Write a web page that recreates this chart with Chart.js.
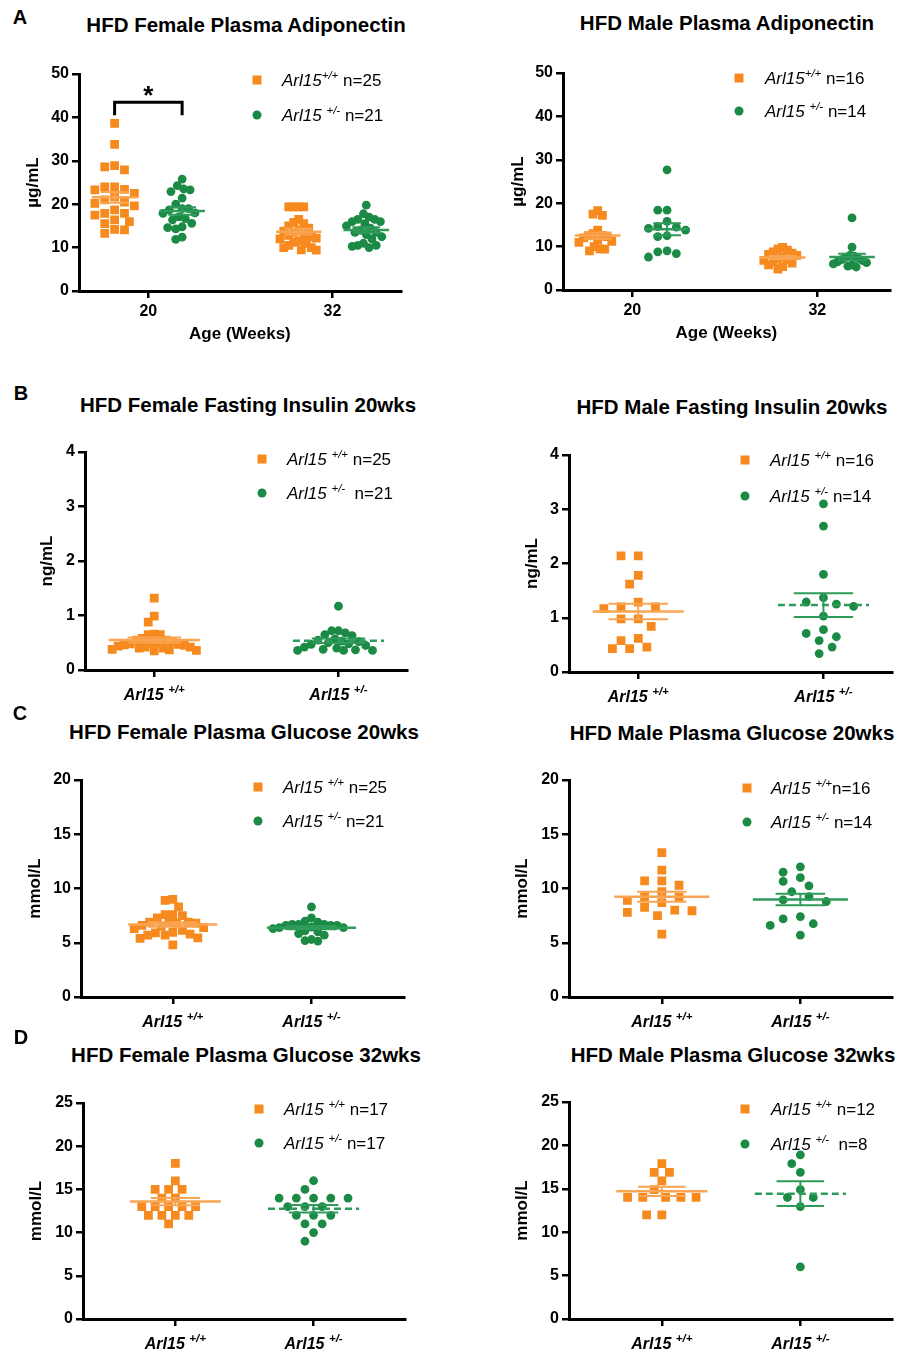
<!DOCTYPE html>
<html>
<head>
<meta charset="utf-8">
<script src="https://cdn.jsdelivr.net/npm/chart.js@4.4.1/dist/chart.umd.min.js"></script>
<style>
  body { margin: 0; background: #fff; font-family: "Liberation Sans", Arial, sans-serif; }
  #fig { position: relative; width: 898px; height: 1355px; overflow: hidden; }
  #fig canvas { position: absolute; }
  .t { position: absolute; font-weight: bold; font-size: 20.5px; line-height: 1; white-space: nowrap; transform: translate(-50%, -50%); }
  .letter { position: absolute; font-weight: bold; font-size: 20px; line-height: 1; transform: translate(-50%, -50%); }
  .lg { position: absolute; font-size: 17px; line-height: 1; white-space: nowrap; transform: translateY(-50%); }
  .lg sup { font-size: 11.5px; font-style: italic; vertical-align: 0; position: relative; top: -7px; }
  .mk { position: absolute; width: 9px; height: 9px; transform: translate(-50%, -50%); }
  .mk.dot { border-radius: 50%; }
</style>
</head>
<body>
<div id="fig"></div>
<script>
var ORANGE = '#F68A1F', GREEN = '#1A8A45';
var ORANGE_LINE = '#F9A553', GREEN_LINE = '#2E9B5A';

// x categories
var ageWeeks = [20, 32];
var genotypes = ['+/+', '+/-'];

// A: plasma adiponectin (µg/mL)
var adipoFemaleWT20 = [38.6, 33.8, 28.9, 28.6, 27.9, 24.0, 24.0, 23.4, 23.3, 22.5, 21.7, 21.0, 20.5, 20.2, 19.6, 18.7, 17.9, 17.9, 17.5, 16.4, 16.0, 15.5, 14.2, 14.1, 13.3];
var adipoFemaleHet20 = [25.8, 24.3, 23.5, 23.3, 22.9, 21.4, 20.0, 19.0, 19.0, 18.7, 18.0, 17.9, 17.1, 16.7, 16.4, 15.6, 14.8, 14.6, 14.3, 12.4, 11.9];
var adipoFemaleWT32 = [19.4, 19.4, 19.4, 19.4, 16.5, 15.8, 15.5, 15.0, 14.5, 14.0, 13.8, 13.5, 13.0, 12.8, 12.5, 12.2, 12.0, 11.5, 11.2, 11.0, 10.5, 10.0, 10.0, 9.5, 9.4];
var adipoFemaleHet32 = [19.8, 17.8, 17.0, 16.5, 16.5, 16.0, 16.0, 15.5, 15.0, 14.5, 14.0, 13.5, 13.5, 13.0, 12.5, 12.0, 11.0, 10.5, 10.5, 10.3, 10.0];
var adipoMaleWT20 = [18.3, 17.5, 17.2, 13.8, 13.0, 12.6, 12.5, 12.3, 12.0, 11.5, 11.2, 11.0, 10.0, 9.5, 9.4, 9.0];
var adipoMaleHet20 = [27.7, 18.4, 18.4, 15.8, 14.6, 14.5, 14.2, 13.8, 12.5, 12.3, 9.0, 8.8, 8.4, 7.6];
var adipoMaleWT32 = [9.8, 9.5, 9.2, 8.8, 8.5, 8.2, 8.0, 7.6, 7.3, 7.0, 6.8, 6.5, 6.2, 5.8, 5.4, 4.8];
var adipoMaleHet32 = [16.6, 9.9, 8.0, 7.8, 7.5, 7.3, 7.0, 6.8, 6.5, 6.3, 6.0, 5.8, 5.5, 5.3];
// significance bracket between the two 20-week groups
var adipoFemaleSig = { from: 0, to: 1, top: 43.5, drop: 3, mark: '*' };

// B: fasting insulin 20 wks (ng/mL)
var insulinFemaleWT = [1.32, 0.99, 0.88, 0.66, 0.65, 0.65, 0.58, 0.55, 0.55, 0.52, 0.50, 0.50, 0.48, 0.47, 0.46, 0.45, 0.44, 0.42, 0.42, 0.40, 0.40, 0.38, 0.37, 0.36, 0.35];
var insulinFemaleHet = [1.17, 0.72, 0.72, 0.68, 0.65, 0.63, 0.57, 0.55, 0.53, 0.52, 0.50, 0.48, 0.47, 0.45, 0.42, 0.40, 0.38, 0.37, 0.36, 0.36, 0.36];
var insulinMaleWT = [2.14, 2.14, 1.78, 1.62, 1.29, 1.20, 1.20, 1.17, 0.98, 0.98, 0.84, 0.62, 0.58, 0.46, 0.43, 0.43];
var insulinMaleHet = [3.10, 2.69, 1.80, 1.37, 1.29, 1.25, 1.21, 1.03, 0.78, 0.71, 0.65, 0.58, 0.46, 0.34];

// C: plasma glucose 20 wks (mmol/L)
var glucose20FemaleWT = [9.0, 8.9, 8.3, 7.6, 7.6, 7.5, 7.3, 6.9, 6.9, 6.85, 6.8, 6.8, 6.6, 6.5, 6.4, 6.3, 6.15, 5.95, 5.9, 5.8, 5.7, 5.7, 5.45, 5.4, 4.8];
var glucose20FemaleHet = [8.3, 7.3, 7.0, 6.9, 6.7, 6.7, 6.7, 6.6, 6.6, 6.6, 6.45, 6.4, 6.4, 6.3, 6.1, 6.0, 5.85, 5.7, 5.3, 5.2, 5.15];
var glucose20MaleWT = [13.3, 11.7, 10.7, 10.7, 10.3, 9.7, 9.25, 9.2, 8.9, 8.7, 8.25, 8.0, 7.95, 7.8, 7.5, 5.8];
var glucose20MaleHet = [12.0, 11.5, 11.0, 10.65, 10.25, 9.7, 9.25, 8.95, 8.8, 7.4, 7.2, 6.75, 6.6, 5.7];

// D: plasma glucose 32 wks (mmol/L)
var glucose32FemaleWT = [18, 16, 15, 15, 15, 14, 14, 13, 13, 13, 13, 13, 12, 12, 12, 12, 11];
var glucose32FemaleHet = [16, 15, 14, 14, 14, 14, 14, 13, 13, 13, 12, 12, 12, 11, 11, 10, 9];
var glucose32MaleWT = [17.9, 16.9, 16.9, 15.9, 14.9, 14.0, 14.0, 14.0, 14.0, 14.0, 12.0, 12.0];
var glucose32MaleHet = [18.9, 17.9, 16.9, 14.9, 14.0, 14.0, 12.95, 6.0];

var LEG1 = ['<i>Arl15</i><sup>+/+</sup> n={n}', '<i>Arl15</i> <sup>+/-</sup> n={n}'];
var LEG2 = ['<i>Arl15</i> <sup>+/+</sup> n={n}', '<i>Arl15</i> <sup>+/-</sup> n={n}'];

function genoGroups(wt, het, dashed) {
  return [{ at: 0, side: 0, vals: wt, kind: 0 }, { at: 1, side: 0, vals: het, kind: 1, dashed: dashed }];
}

var panels = [
  { letter: ['A', 20, 17], col: 0, plot: [79, 74, 404, 291], yr: [0, 50, 10], xr: [15.48, 36.45], ticks: ageWeeks,
    ytitle: 'µg/mL', ytx: 33, xtitle: 'Age (Weeks)', xty: 334, meanW: 23, semW: 14, spread: 20,
    title: ['HFD Female Plasma Adiponectin', 246, 25], legend: { x: 257, y: 80, dy: 35, tx: 282, rows: LEG1 },
    groups: [{ at: 20, side: -2.2, vals: adipoFemaleWT20, kind: 0 }, { at: 20, side: 2.2, vals: adipoFemaleHet20, kind: 1 },
             { at: 32, side: -2.2, vals: adipoFemaleWT32, kind: 0 }, { at: 32, side: 2.2, vals: adipoFemaleHet32, kind: 1 }],
    sig: adipoFemaleSig },
  { col: 1, plot: [563, 73, 893, 290], yr: [0, 50, 10], xr: [15.5, 36.7], ticks: ageWeeks,
    ytitle: 'µg/mL', ytx: 518, xtitle: 'Age (Weeks)', xty: 333, meanW: 23, semW: 14, spread: 19,
    title: ['HFD Male Plasma Adiponectin', 727, 23], legend: { x: 739, y: 78, dy: 33, tx: 765, rows: LEG1 },
    groups: [{ at: 20, side: -2.25, vals: adipoMaleWT20, kind: 0 }, { at: 20, side: 2.25, vals: adipoMaleHet20, kind: 1 },
             { at: 32, side: -2.25, vals: adipoMaleWT32, kind: 0 }, { at: 32, side: 2.25, vals: adipoMaleHet32, kind: 1 }] },
  { letter: ['B', 21, 393], col: 0, plot: [85, 452, 410, 670], yr: [0, 4, 1], xr: [-0.376, 1.371], ticks: [0, 1], geno: true,
    ytitle: 'ng/mL', ytx: 47, meanW: 46, semW: 27, spread: 43,
    title: ['HFD Female Fasting Insulin 20wks', 248, 405],
    legend: { x: 262, y: 459, dy: 34, tx: 287, rows: ['<i>Arl15</i> <sup>+/+</sup> n={n}', '<i>Arl15</i> <sup>+/-</sup>&nbsp; n={n}'] },
    groups: genoGroups(insulinFemaleWT, insulinFemaleHet, true) },
  { col: 1, plot: [569, 455, 895, 672], yr: [0, 4, 1], xr: [-0.374, 1.369], ticks: [0, 1], geno: true,
    ytitle: 'ng/mL', ytx: 532, meanW: 46, semW: 30, spread: 40,
    title: ['HFD Male Fasting Insulin 20wks', 732, 407], legend: { x: 745, y: 460, dy: 36, tx: 770, rows: LEG2 },
    groups: genoGroups(insulinMaleWT, insulinMaleHet, true) },
  { letter: ['C', 20, 713], col: 0, plot: [81, 780, 407, 997], yr: [0, 20, 5], xr: [-0.662, 1.666], ticks: [0, 1], geno: true,
    ytitle: 'mmol/L', ytx: 35, meanW: 45, semW: 25, spread: 40,
    title: ['HFD Female Plasma Glucose 20wks', 244, 732], legend: { x: 258, y: 787, dy: 34, tx: 283, rows: LEG2 },
    groups: genoGroups(glucose20FemaleWT, glucose20FemaleHet, false) },
  { col: 1, plot: [569, 780, 895, 997], yr: [0, 20, 5], xr: [-0.67, 1.66], ticks: [0, 1], geno: true,
    ytitle: 'mmol/L', ytx: 522, meanW: 48, semW: 25, spread: 38,
    title: ['HFD Male Plasma Glucose 20wks', 732, 733],
    legend: { x: 747, y: 788, dy: 34, tx: 771, rows: ['<i>Arl15</i> <sup>+/+</sup>n={n}', '<i>Arl15</i> <sup>+/-</sup> n={n}'] },
    groups: genoGroups(glucose20MaleWT, glucose20MaleHet, false) },
  { letter: ['D', 21, 1037], col: 0, plot: [83, 1103, 408, 1319], yr: [0, 25, 5], xr: [-0.668, 1.66], ticks: [0, 1], geno: true,
    ytitle: 'mmol/L', ytx: 36, meanW: 46, semW: 25, spread: 36,
    title: ['HFD Female Plasma Glucose 32wks', 246, 1055], legend: { x: 259, y: 1109, dy: 34, tx: 284, rows: LEG2 },
    groups: genoGroups(glucose32FemaleWT, glucose32FemaleHet, true) },
  { col: 1, plot: [569, 1102, 895, 1319], yr: [0, 25, 5], xr: [-0.67, 1.66], ticks: [0, 1], geno: true,
    ytitle: 'mmol/L', ytx: 522, meanW: 46, semW: 24, spread: 36,
    title: ['HFD Male Plasma Glucose 32wks', 733, 1055],
    legend: { x: 745, y: 1109, dy: 35, tx: 771, rows: ['<i>Arl15</i> <sup>+/+</sup> n={n}', '<i>Arl15</i> <sup>+/-</sup>&nbsp; n={n}'] },
    groups: genoGroups(glucose32MaleWT, glucose32MaleHet, true) }
];

Chart.defaults.font.family = '"Liberation Sans", Arial, sans-serif';
Chart.defaults.color = '#000';

var fig = document.getElementById('fig');

function mean(a) { return a.reduce(function (s, v) { return s + v; }, 0) / a.length; }
function sem(a) {
  var m = mean(a);
  var ss = a.reduce(function (s, v) { return s + (v - m) * (v - m); }, 0);
  return Math.sqrt(ss / (a.length - 1)) / Math.sqrt(a.length);
}

// beeswarm in pixels: elliptical keep-out (wide in x), squeezed sideways until it fits the allowed half width
function swarmOnce(vals, yPix, ax, ay, step) {
  var idx = vals.map(function (v, i) { return i; });
  idx.sort(function (a, b) { return vals[b] - vals[a]; });
  var placed = [], out = [];
  idx.forEach(function (i) {
    var py = yPix(vals[i]);
    for (var k = 0; k < 600; k++) {
      var dx = (k % 2 ? -1 : 1) * Math.ceil(k / 2) * step;
      var hit = placed.some(function (p) {
        var ex = (p[0] - dx) / ax, ey = (p[1] - py) / ay;
        return ex * ex + ey * ey < 0.999;
      });
      if (!hit) { placed.push([dx, py]); out[i] = dx; break; }
    }
  });
  return out;
}
function swarm(vals, yPix, size, maxHalf) {
  var f = 1, out, wmax;
  do {
    out = swarmOnce(vals, yPix, 2 * size * f, 1.06 * size, size * f / 2);
    wmax = Math.max.apply(null, out.map(Math.abs));
    f *= 0.94;
  } while (wmax > maxHalf && f > 0.2);
  return out;
}

function addDiv(cls, x, y, html) {
  var d = document.createElement('div');
  d.className = cls;
  d.style.left = x + 'px';
  d.style.top = y + 'px';
  d.innerHTML = html;
  fig.appendChild(d);
  return d;
}

function build(p) {
  var left = p.col ? 449 : 0;
  var top = p.plot[1] - 14;
  var xH = p.xtitle ? 56 : 34;
  var right = Math.min(898, p.plot[2] + 3);
  var w = right - left, h = p.plot[3] + xH - top;
  var cv = document.createElement('canvas');
  cv.width = w; cv.height = h;
  cv.style.left = left + 'px'; cv.style.top = top + 'px';
  cv.style.width = w + 'px'; cv.style.height = h + 'px';
  fig.appendChild(cv);

  var datasets = [];
  p.groups.forEach(function (g) {
    var lc = g.kind ? GREEN_LINE : ORANGE_LINE;
    datasets.push({ type: 'line', data: [], borderColor: lc, borderWidth: 2.5, borderDash: g.dashed ? [7, 4] : [],
                    pointRadius: 0, fill: false, spanGaps: false });
    datasets.push({ type: 'line', data: [], borderColor: lc, borderWidth: 2, pointRadius: 0, fill: false, spanGaps: false });
  });
  if (p.sig) {
    datasets.push({ type: 'line', data: [], borderColor: '#000', borderWidth: 3, pointRadius: 0, fill: false });
  }
  var firstPts = datasets.length;
  p.groups.forEach(function (g) {
    var c = g.kind ? GREEN : ORANGE;
    datasets.push({ type: 'scatter', data: [], pointStyle: g.kind ? 'circle' : 'rect', pointRadius: g.kind ? 4.4 : 6.2,
                    pointHoverRadius: g.kind ? 4.4 : 6.2, backgroundColor: c, borderColor: c, borderWidth: 0 });
  });

  var genoLabels = {
    id: 'genoLabels',
    afterDraw: function (chart) {
      if (!p.geno) return;
      var ctx = chart.ctx, sx = chart.scales.x, base = chart.chartArea.bottom + 30;
      genotypes.forEach(function (gt, i) {
        var cx = sx.getPixelForValue(i);
        ctx.save();
        ctx.fillStyle = '#000';
        ctx.textBaseline = 'alphabetic';
        ctx.font = 'italic bold 16px "Liberation Sans", Arial';
        var w1 = ctx.measureText('Arl15 ').width;
        ctx.font = 'italic bold 11.5px "Liberation Sans", Arial';
        var w2 = ctx.measureText(gt).width;
        var x = cx - (w1 + w2) / 2;
        ctx.font = 'italic bold 16px "Liberation Sans", Arial';
        ctx.fillText('Arl15 ', x, base);
        ctx.font = 'italic bold 11.5px "Liberation Sans", Arial';
        ctx.fillText(gt, x + w1, base - 7);
        ctx.restore();
      });
    }
  };
  var sigMark = {
    id: 'sigMark',
    afterDatasetsDraw: function (chart) {
      if (!p.sig) return;
      var g1 = p.groups[p.sig.from], g2 = p.groups[p.sig.to];
      var mx = (g1.at + g1.side + g2.at + g2.side) / 2;
      var ctx = chart.ctx;
      ctx.save();
      ctx.font = 'bold 26px "Liberation Sans", Arial';
      ctx.textAlign = 'center';
      ctx.fillStyle = '#000';
      ctx.fillText(p.sig.mark, chart.scales.x.getPixelForValue(mx), chart.scales.y.getPixelForValue(p.sig.top) + 2);
      ctx.restore();
    }
  };

  var tickGrid = { display: true, drawOnChartArea: false, drawTicks: true, tickLength: 7, color: '#000', lineWidth: 2.5 };
  var xTitleLH = 17 * 1.2;
  var chart = new Chart(cv, {
    type: 'scatter',
    data: { datasets: datasets },
    options: {
      responsive: false, animation: false, devicePixelRatio: 1,
      layout: { padding: { top: 14, right: left + w - p.plot[2], left: 0, bottom: 0 } },
      plugins: { legend: { display: false }, tooltip: { enabled: false } },
      scales: {
        x: {
          type: 'linear', min: p.xr[0], max: p.xr[1],
          afterBuildTicks: function (s) { s.ticks = p.ticks.map(function (v) { return { value: v }; }); },
          afterFit: function (s) { s.height = xH; },
          grid: tickGrid,
          border: { display: true, color: '#000', width: 3 },
          ticks: { color: '#000', padding: 4, font: { size: 16, weight: 'bold' },
                   callback: function (v) { return p.geno ? '' : String(v); } },
          title: { display: !!p.xtitle, text: p.xtitle || '', color: '#000', font: { size: 17, weight: 'bold' },
                   padding: { top: 0, bottom: p.plot[3] + xH - (p.xty || 0) - xTitleLH / 2 } }
        },
        y: {
          min: p.yr[0], max: p.yr[1],
          afterFit: function (s) { s.width = p.plot[0] - left; },
          grid: tickGrid,
          border: { display: true, color: '#000', width: 3 },
          ticks: { stepSize: p.yr[2], color: '#000', padding: 3, font: { size: 16, weight: 'bold' } },
          title: { display: true, text: p.ytitle, color: '#000', font: { size: 17, weight: 'bold' },
                   padding: { top: p.ytx - left - xTitleLH / 2, bottom: 0 } }
        }
      }
    },
    plugins: [genoLabels, sigMark]
  });

  // place the points, mean and SEM bars using the scales
  var sx = chart.scales.x, sy = chart.scales.y;
  var ux = sx.getPixelForValue(1) - sx.getPixelForValue(0);
  var yPix = function (v) { return sy.getPixelForValue(v); };
  p.groups.forEach(function (g, gi) {
    var c = g.at + g.side, m = mean(g.vals), e = sem(g.vals);
    var mw = p.meanW / ux, sw = p.semW / ux;
    datasets[2 * gi].data = [{ x: c - mw, y: m }, { x: c + mw, y: m }];
    datasets[2 * gi + 1].data = [
      { x: c - sw, y: m + e }, { x: c + sw, y: m + e }, { x: c, y: null },
      { x: c - sw, y: m - e }, { x: c + sw, y: m - e }, { x: c, y: null },
      { x: c, y: m + e }, { x: c, y: m - e }];
    var offs = swarm(g.vals, yPix, 8.7, p.spread);
    datasets[firstPts + gi].data = g.vals.map(function (v, i) { return { x: c + offs[i] / ux, y: v }; });
  });
  if (p.sig) {
    var a = p.groups[p.sig.from], b = p.groups[p.sig.to];
    var xa = a.at + a.side, xb = b.at + b.side, yt = p.sig.top, yb = p.sig.top - p.sig.drop;
    datasets[2 * p.groups.length].data = [{ x: xa, y: yb }, { x: xa, y: yt }, { x: xb, y: yt }, { x: xb, y: yb }];
  }
  chart.update('none');

  // titles, panel letters, legends
  addDiv('t', p.title[1], p.title[2], p.title[0]);
  if (p.letter) addDiv('letter', p.letter[1], p.letter[2], p.letter[0]);
  p.legend.rows.forEach(function (row, i) {
    var y = p.legend.y + i * p.legend.dy;
    var mk = addDiv('mk' + (i ? ' dot' : ''), p.legend.x, y, '');
    mk.style.background = i ? GREEN : ORANGE;
    addDiv('lg', p.legend.tx, y, row.replace('{n}', p.groups[i].vals.length));
  });
}

panels.forEach(build);
</script>
</body>
</html>
